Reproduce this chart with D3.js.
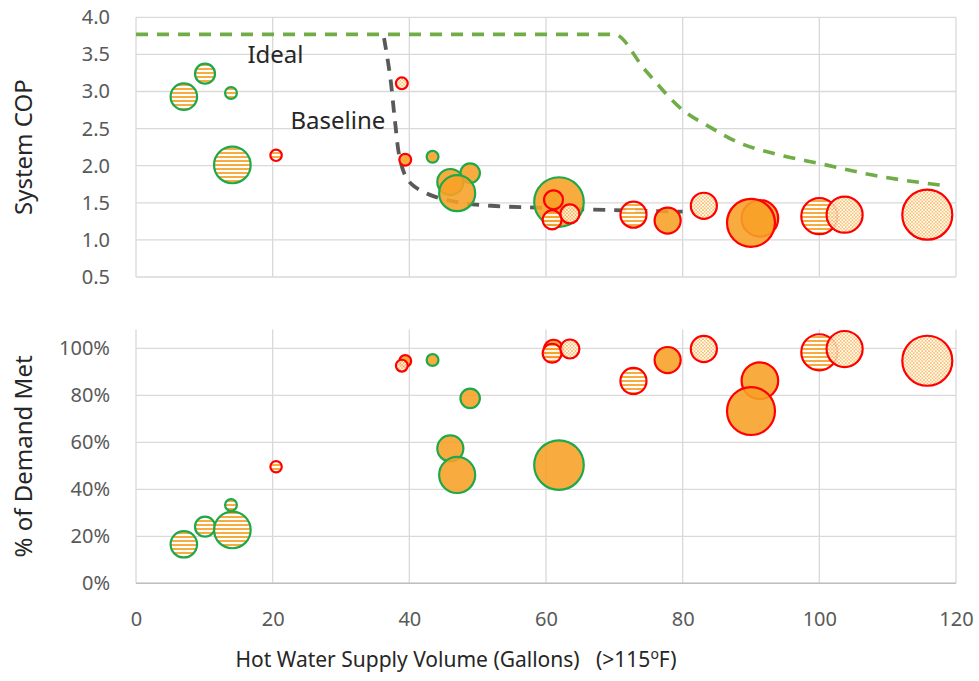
<!DOCTYPE html>
<html>
<head>
<meta charset="utf-8">
<script src="https://cdn.jsdelivr.net/npm/d3@7"></script>
<style>
    body { margin: 0; background: #fff; }
    svg { display: block; font-family: "Noto Sans", sans-serif; }
</style>
</head>
<body>
<div id="chart"></div>
<script>
// bubble data (draw order)
const volume  = [7.0, 10.1, 13.9, 14.1, 20.5, 39.4, 38.9, 43.4, 48.9, 46.0, 47.0, 61.9, 61.1, 60.9, 63.5, 72.8, 77.8, 83.1, 91.3, 90.0, 100.0, 103.7, 115.8];
const cop     = [2.93, 3.24, 2.98, 2.01, 2.14, 2.08, 3.11, 2.12, 1.90, 1.78, 1.63, 1.51, 1.54, 1.27, 1.35, 1.34, 1.26, 1.46, 1.29, 1.23, 1.32, 1.34, 1.34];
const demand  = [0.166, 0.241, 0.333, 0.227, 0.496, 0.946, 0.926, 0.950, 0.787, 0.574, 0.461, 0.503, 0.996, 0.979, 0.997, 0.861, 0.950, 0.997, 0.862, 0.733, 0.983, 0.997, 0.947];
const size    = [35, 20, 7, 67, 6.5, 7, 7, 7, 19, 34, 65, 123, 18, 18, 18, 34, 34, 34, 67, 115, 65, 65, 125];
const texture = ["stripe", "stripe", "stripe", "stripe", "stripe", "solid", "dot", "solid", "solid", "solid", "solid", "solid",
                 "solid", "stripe", "dot", "stripe", "solid", "dot", "solid", "solid", "stripe", "dot", "dot"];
const outline = ["green", "green", "green", "green", "red", "red", "red", "green", "green", "green", "green", "green",
                 "red", "red", "red", "red", "red", "red", "red", "red", "red", "red", "red"];

// reference curves
const idealX    = [0, 70, 74.5, 80, 84, 88, 94, 100, 108, 118.5];
const idealY    = [3.77, 3.77, 3.29, 2.75, 2.52, 2.32, 2.15, 2.03, 1.87, 1.73];
const baselineX = [36.3, 37.2, 37.9, 38.6, 39.5, 40.6, 43.5, 47, 52, 60, 70, 80];
const baselineY = [3.72, 3.2, 2.6, 2.1, 1.85, 1.73, 1.59, 1.51, 1.46, 1.43, 1.40, 1.38];

// ticks
const xTicks = [0, 20, 40, 60, 80, 100, 120];
const copTicks = [0.5, 1.0, 1.5, 2.0, 2.5, 3.0, 3.5, 4.0];
const demandTicks = [0, 0.2, 0.4, 0.6, 0.8, 1.0];

// formatting constants
const width = 979;
const height = 681;
const gridColor = "#d9d9d9";
const tickColor = "#595959";
const orange = "#f7a125";
const strokes = {green: "#1fa84a", red: "#ff0000"};

const points = volume.map((v, i) => ({
    x: v, cop: cop[i], demand: demand[i], size: size[i], texture: texture[i], outline: outline[i]
}));

const svg = d3.select("#chart")
    .append("svg")
        .attr("width", width)
        .attr("height", height);

// fill patterns
const defs = svg.append("defs");
const stripe = defs.append("pattern")
    .attr("id", "stripe")
    .attr("patternUnits", "userSpaceOnUse")
    .attr("width", 4).attr("height", 4);
stripe.append("rect").attr("width", 4).attr("height", 4).attr("fill", "#fff");
stripe.append("rect").attr("width", 4).attr("height", 2).attr("fill", orange);

const dot = defs.append("pattern")
    .attr("id", "dot")
    .attr("patternUnits", "userSpaceOnUse")
    .attr("width", 3.4).attr("height", 3.4);
dot.append("rect").attr("width", 3.4).attr("height", 3.4).attr("fill", "#fff");
dot.append("circle").attr("cx", 0.85).attr("cy", 0.85).attr("r", 0.85).attr("fill", orange);
dot.append("circle").attr("cx", 2.55).attr("cy", 2.55).attr("r", 0.85).attr("fill", orange);

// scales
const x = d3.scaleLinear().domain([0, 120]).range([136, 956]);
const yCop = d3.scaleLinear().domain([0.5, 4.0]).range([277, 17.3]);
const yDemand = d3.scaleLinear().domain([0, 1.08]).range([583.3, 329.5]);
const r = d3.scaleSqrt().domain([0, 125]).range([0, 25]);

function fillOf(d) {
    return d.texture == "solid" ? orange : `url(#${d.texture})`;
}

function drawGrid(y, ticks, top) {
    const g = svg.append("g");
    g.selectAll(".h")
        .data(ticks)
        .join("line")
            .attr("x1", x(0)).attr("x2", x(120))
            .attr("y1", it => y(it)).attr("y2", it => y(it))
            .attr("stroke", gridColor)
            .attr("stroke-width", 1.3);
    g.selectAll(".v")
        .data(xTicks)
        .join("line")
            .attr("x1", it => x(it)).attr("x2", it => x(it))
            .attr("y1", top).attr("y2", y.range()[0])
            .attr("stroke", gridColor)
            .attr("stroke-width", 1.3);
}

// draw grids
drawGrid(yCop, copTicks, yCop(4.0));
drawGrid(yDemand, demandTicks, yDemand.range()[1]);

// bottom axis line
svg.append("line")
    .attr("x1", x(0)).attr("x2", x(120))
    .attr("y1", yDemand(0)).attr("y2", yDemand(0))
    .attr("stroke", "#bfbfbf")
    .attr("stroke-width", 1.5);

// Y-axis tick labels
const copAxis = svg.append("g")
    .attr("transform", `translate(${x(0)}, 0)`)
    .call(d3.axisLeft(yCop).tickValues(copTicks).tickFormat(d3.format(".1f")).tickSize(0).tickPadding(26));

const demandAxis = svg.append("g")
    .attr("transform", `translate(${x(0)}, 0)`)
    .call(d3.axisLeft(yDemand).tickValues(demandTicks).tickFormat(d3.format(".0%")).tickSize(0).tickPadding(26));

// X-axis tick labels
const xAxis = svg.append("g")
    .attr("transform", `translate(0, ${yDemand(0)})`)
    .call(d3.axisBottom(x).tickValues(xTicks).tickSize(0).tickPadding(29));

[copAxis, demandAxis, xAxis].forEach(ax => {
    ax.select(".domain").remove();
    ax.selectAll("text")
        .attr("font-family", "Noto Sans")
        .attr("font-size", 20)
        .attr("fill", tickColor);
});

// curves
const line = d3.line()
    .x(it => x(it[0]))
    .y(it => yCop(it[1]))
    .curve(d3.curveMonotoneX);

svg.append("path")
    .datum(idealX.map((v, i) => [v, idealY[i]]))
    .attr("d", line)
    .attr("fill", "none")
    .attr("stroke", "#70ad47")
    .attr("stroke-width", 3.6)
    .attr("stroke-dasharray", "12 9");

svg.append("path")
    .datum(baselineX.map((v, i) => [v, baselineY[i]]))
    .attr("d", d3.line().x(it => x(it[0])).y(it => yCop(it[1])).curve(d3.curveCatmullRom))
    .attr("fill", "none")
    .attr("stroke", "#595959")
    .attr("stroke-width", 3.8)
    .attr("stroke-dasharray", "12 9");

// bubbles
function drawBubbles(y, key) {
    svg.append("g")
        .selectAll("circle")
        .data(points)
        .join("circle")
            .attr("cx", it => x(it.x))
            .attr("cy", it => y(it[key]))
            .attr("r", it => r(it.size))
            .attr("fill", it => fillOf(it))
            .attr("fill-opacity", 0.88)
            .attr("stroke", it => strokes[it.outline])
            .attr("stroke-width", 2.2);
}

drawBubbles(yCop, "cop");
drawBubbles(yDemand, "demand");

// curve labels
svg.append("text")
    .attr("x", x(16.3)).attr("y", yCop(3.38))
    .attr("font-size", 24)
    .attr("fill", "#262626")
    .text("Ideal");

svg.append("text")
    .attr("x", x(22.6)).attr("y", yCop(2.5))
    .attr("font-size", 24)
    .attr("fill", "#262626")
    .text("Baseline");

// axis titles
svg.append("text")
    .attr("transform", `translate(32, ${(yCop(4.0) + yCop(0.5)) / 2}) rotate(-90)`)
    .attr("text-anchor", "middle")
    .attr("font-size", 24)
    .attr("fill", "#262626")
    .text("System COP");

svg.append("text")
    .attr("transform", `translate(32, ${(yDemand.range()[0] + yDemand.range()[1]) / 2}) rotate(-90)`)
    .attr("text-anchor", "middle")
    .attr("font-size", 24)
    .attr("fill", "#262626")
    .text("% of Demand Met");

const xTitle = svg.append("text")
    .attr("x", 456)
    .attr("y", 667)
    .attr("text-anchor", "middle")
    .attr("font-size", 21)
    .attr("fill", "#262626")
    .attr("xml:space", "preserve");
xTitle.append("tspan").text("Hot Water Supply Volume (Gallons)   (>115");
xTitle.append("tspan").attr("font-size", 14).attr("dy", -8).text("o");
xTitle.append("tspan").attr("dy", 8).text("F)");
</script>
</body>
</html>
